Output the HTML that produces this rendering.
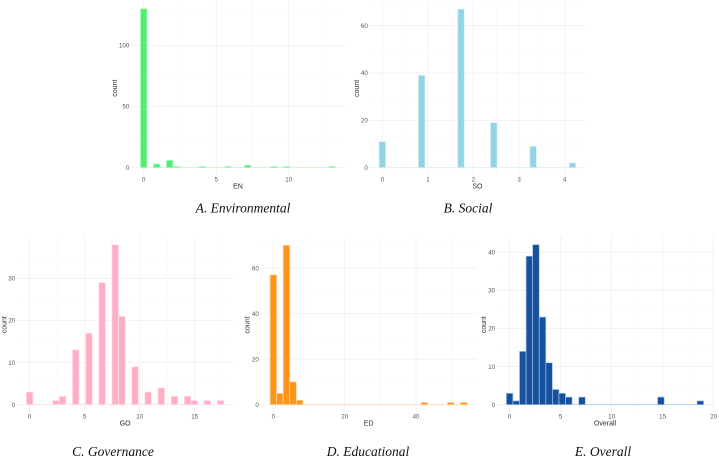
<!DOCTYPE html>
<html lang="en">
<head>
<meta charset="utf-8">
<title>Score histograms</title>
<style>
html,body{margin:0;padding:0;background:#fff;width:719px;height:457px;overflow:hidden}
svg{display:block;filter:blur(0.35px)}
.tick{font-family:"Liberation Sans",sans-serif;font-size:6.2px;fill:#555}
.axt{font-family:"Liberation Sans",sans-serif;font-size:7px;fill:#2a2a2a}
.cap{font-family:"Liberation Serif",serif;font-style:italic;font-size:13.5px;fill:#111;text-anchor:middle}
</style>
</head>
<body>
<svg id="figure" xmlns="http://www.w3.org/2000/svg" width="719" height="457" viewBox="0 0 719 457">
<rect width="719" height="457" fill="#fff"/>
<text class="cap" x="243" y="212.5">A. Environmental</text>
<text class="cap" x="468" y="212.5">B. Social</text>
<text class="cap" x="113" y="456">C. Governance</text>
<text class="cap" x="368" y="456">D. Educational</text>
<text class="cap" x="603" y="456">E. Overall</text>
</svg>
<script>
// Histogram counts: 30 bins, first bin centred on 0, last bin centred on the maximum score.
const enCounts = [130,0,3,0,6,1,0,0,0,1,0,0,0,1,0,0,2,0,0,0,1,0,1,0,0,0,0,0,0,1];
const soCounts = [11,0,0,0,0,0,39,0,0,0,0,0,67,0,0,0,0,19,0,0,0,0,0,9,0,0,0,0,0,2];
const goCounts = [3,0,0,0,1,2,0,13,0,17,0,29,0,38,21,0,9,0,3,0,4,0,2,0,2,1,0,1,0,1];
const edCounts = [57,5,70,10,2,0,0,0,0,0,0,0,0,0,0,0,0,0,0,0,0,0,0,1,0,0,0,1,0,1];
const ovCounts = [3,1,14,39,42,23,11,4,3,2,0,2,0,0,0,0,0,0,0,0,0,0,0,2,0,0,0,0,0,1];

// Largest score on each x axis
const enMax = 13;
const soMax = 4.17;
const goMax = 17.35;
const edMax = 53.4;
const ovMax = 18.7;

// Tick labels
const enXTicks = [0,5,10];
const enYTicks = [0,50,100];
const soXTicks = [0,1,2,3,4];
const soYTicks = [0,20,40,60];
const goXTicks = [0,5,10,15];
const goYTicks = [0,10,20,30];
const edXTicks = [0,20,40];
const edYTicks = [0,20,40,60];
const ovXTicks = [0,5,10,15,20];
const ovYTicks = [0,10,20,30,40];

const SVG_NS = 'http://www.w3.org/2000/svg';
const figure = document.getElementById('figure');

function shape(tag, attrs, parent) {
  const el = document.createElementNS(SVG_NS, tag);
  for (const k in attrs) el.setAttribute(k, attrs[k]);
  parent.appendChild(el);
  return el;
}

function drawHistogram(id, title, counts, xMax, xTicks, yTicks, box, fill, edge, yTitleX) {
  const group = shape('g', {}, figure);
  
  

  const n = counts.length;
  const binW = xMax / (n - 1);
  const xLo = -binW / 2, xHi = xMax + binW / 2;
  const xPad = (xHi - xLo) * 0.05;
  const yTop = Math.max.apply(null, counts);
  const yPad = yTop * 0.05;
  const xScale = v => box.l + (v - (xLo - xPad)) / (xHi - xLo + 2 * xPad) * (box.r - box.l);
  const yScale = v => box.b - (v + yPad) / (yTop + 2 * yPad) * (box.b - box.t);

  // Minor gridlines halfway between majors
  const xStep = xTicks[1] - xTicks[0], yStep = yTicks[1] - yTicks[0];
  for (let v = xTicks[0] + xStep / 2; xScale(v) < box.r; v += xStep) {
    const x = xScale(v);
    const line = shape('line', {x1:x, x2:x, y1:box.t, y2:box.b, stroke:'#f6f6f6', 'stroke-width':0.5}, group);
    
    
  }
  for (let v = yTicks[0] + yStep / 2; yScale(v) > box.t; v += yStep) {
    const y = yScale(v);
    const line = shape('line', {x1:box.l, x2:box.r, y1:y, y2:y, stroke:'#f6f6f6', 'stroke-width':0.5}, group);
    
    
  }

  // Major gridlines and tick labels
  xTicks.forEach(v => {
    const x = xScale(v);
    const line = shape('line', {x1:x, x2:x, y1:box.t, y2:box.b, stroke:'#efefef', 'stroke-width':0.8}, group);
    
    
    const label = shape('text', {x:x, y:box.b + 6, class:'tick', 'text-anchor':'middle'}, group);
    label.textContent = v;
    
    
  });
  yTicks.forEach(v => {
    const y = yScale(v);
    const line = shape('line', {x1:box.l, x2:box.r, y1:y, y2:y, stroke:'#efefef', 'stroke-width':0.8}, group);
    
    
    const label = shape('text', {x:box.l - 1.4, y:y + 2.2, class:'tick', 'text-anchor':'end'}, group);
    label.textContent = v;
    
    
  });

  // Bars (zero-count bins keep a thin outline along the baseline)
  counts.forEach((c, i) => {
    const x0 = xScale(i * binW - binW / 2), x1 = xScale(i * binW + binW / 2);
    const h = Math.max(yScale(0) - yScale(c), 0.02);
    const bar = shape('rect', {x:x0, y:yScale(0) - h, width:x1 - x0, height:h, fill:fill, stroke:edge, 'stroke-width':0.7}, group);
    
    
  });

  // Axis titles
  const xTitle = shape('text', {x:(box.l + box.r) / 2, y:box.b + 12.8, class:'axt', 'text-anchor':'middle'}, group);
  xTitle.textContent = title;
  
  
  const yc = (box.t + box.b) / 2;
  const yTitle = shape('text', {x:yTitleX, y:yc, class:'axt', 'text-anchor':'middle', transform:'rotate(-90 ' + yTitleX + ' ' + yc + ')'}, group);
  yTitle.textContent = 'count';
  
  
}

drawHistogram('environmental', 'EN', enCounts, enMax, enXTicks, enYTicks, {l:130.7, r:345.2, t:0.8, b:175.6}, '#4ef06e', '#bdf9c9', 117);
drawHistogram('social', 'SO', soCounts, soMax, soXTicks, soYTicks, {l:369.2, r:585.6, t:1.2, b:175.6}, '#91d4e6', '#d8eff5', 359);
drawHistogram('governance', 'GO', goCounts, goMax, goXTicks, goYTicks, {l:16.5, r:233.7, t:236.7, b:412.7}, '#ffaec4', '#ffe2ea', 6.3);
drawHistogram('educational', 'ED', edCounts, edMax, edXTicks, edYTicks, {l:260.2, r:477, t:237.3, b:412.7}, '#ff9418', '#ffd7a6', 249.6);
drawHistogram('overall', 'Overall', ovCounts, ovMax, ovXTicks, ovYTicks, {l:496.5, r:713.5, t:236.7, b:412.7}, '#15519f', '#a9c3e6', 486);
</script>
</body>
</html>
